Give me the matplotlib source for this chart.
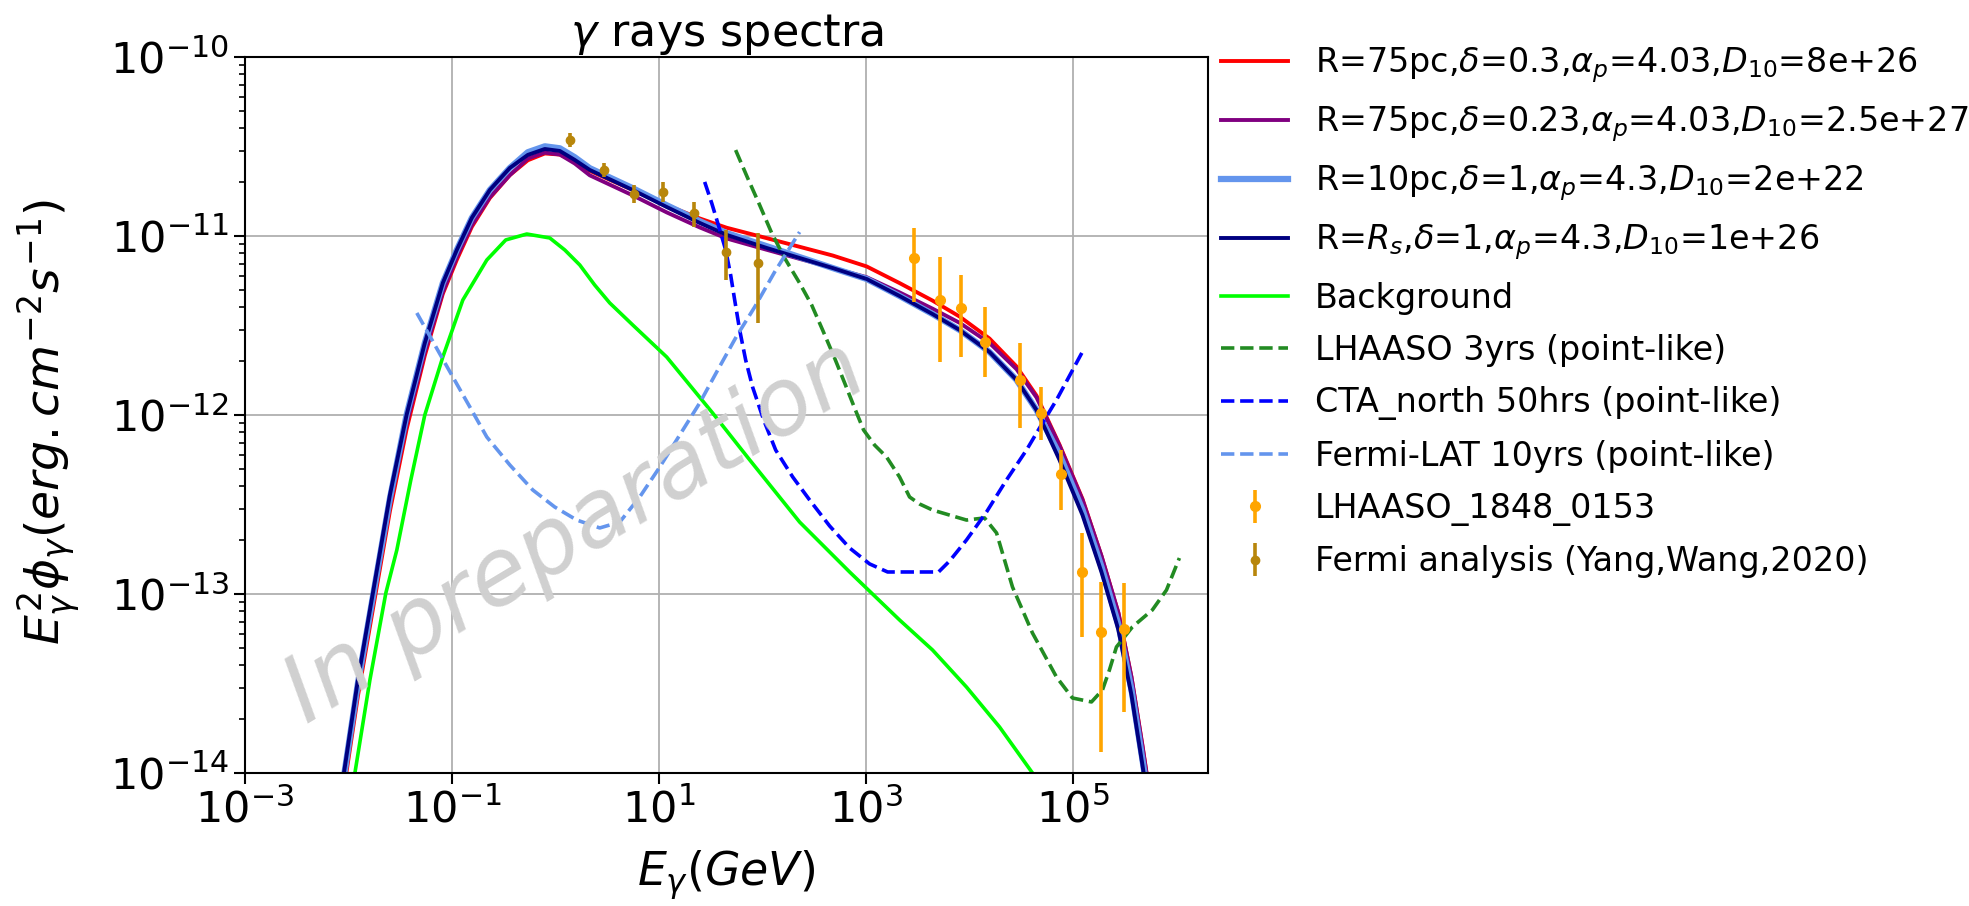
import numpy as np
import matplotlib
matplotlib.use('Agg')
import matplotlib.pyplot as plt
from matplotlib.ticker import NullLocator

# Model spectra on a common energy grid: log10(E / GeV) and log10(E^2 phi / erg cm^-2 s^-1)
logE_model = [-2.102, -2.044, -1.909, -1.764, -1.600, -1.439, -1.263, -1.089, -0.954,
              -0.809, -0.635, -0.442, -0.268, -0.104, 0.041, 0.185, 0.330, 0.745,
              1.073, 1.392, 1.653, 2.039, 2.676, 3.004, 3.322, 3.641, 3.902, 4.191,
              4.452, 4.645, 4.867, 5.089, 5.272, 5.436, 5.562, 5.668, 5.726]
logF_r75_d03 = [-14.297, -14.090, -13.570, -13.084, -12.537, -12.080, -11.668, -11.323,
                -11.133, -10.949, -10.788, -10.660, -10.577, -10.539, -10.545, -10.585,
                -10.636, -10.743, -10.828, -10.902, -10.954, -11.012, -11.109, -11.170,
                -11.263, -11.361, -11.450, -11.573, -11.729, -11.892, -12.166, -12.469,
                -12.787, -13.106, -13.464, -13.845, -14.069]
logF_r75_d023 = [-14.257, -14.050, -13.530, -13.044, -12.497, -12.050, -11.648, -11.313,
                 -11.118, -10.939, -10.783, -10.660, -10.567, -10.534, -10.545, -10.595,
                 -10.661, -10.773, -10.868, -10.952, -11.014, -11.077, -11.179, -11.230,
                 -11.315, -11.406, -11.485, -11.598, -11.744, -11.902, -12.171, -12.474,
                 -12.787, -13.106, -13.464, -13.850, -14.074]
logF_r10_d1 = [-14.227, -14.020, -13.500, -13.014, -12.467, -12.000, -11.598, -11.263,
               -11.078, -10.899, -10.743, -10.620, -10.532, -10.499, -10.510, -10.560,
               -10.621, -10.733, -10.828, -10.917, -10.984, -11.057, -11.179, -11.240,
               -11.335, -11.436, -11.525, -11.648, -11.804, -11.972, -12.221, -12.529,
               -12.847, -13.171, -13.534, -13.925, -14.149]
logF_rs_d1 = [-14.207, -14.000, -13.480, -12.994, -12.447, -12.000, -11.598, -11.263,
              -11.078, -10.899, -10.743, -10.620, -10.547, -10.514, -10.525, -10.575,
              -10.631, -10.743, -10.838, -10.927, -10.994, -11.067, -11.179, -11.240,
              -11.335, -11.436, -11.525, -11.648, -11.804, -11.972, -12.251, -12.559,
              -12.877, -13.201, -13.564, -13.955, -14.179]

# Background
logE_bkg = [-1.967, -1.938, -1.793, -1.639, -1.533, -1.398, -1.263, -1.089, -0.896, -0.664,
            -0.481, -0.278, -0.056, 0.089, 0.234, 0.378, 0.523, 0.745, 1.073, 1.517,
            1.875, 2.357, 2.840, 3.322, 3.641, 3.969, 4.288, 4.606, 4.722]
logF_bkg = [-14.151, -14.000, -13.480, -12.994, -12.754, -12.363, -12.000, -11.676, -11.358,
            -11.134, -11.022, -10.989, -11.011, -11.078, -11.162, -11.274, -11.374, -11.497,
            -11.676, -11.989, -12.251, -12.598, -12.877, -13.145, -13.313, -13.520, -13.743,
            -14.000, -14.106]

# Sensitivity curves
logE_lhaaso = [1.739, 1.855, 1.971, 2.087, 2.212, 2.357, 2.473, 2.579, 2.695, 2.792, 2.888,
               2.975, 3.081, 3.197, 3.322, 3.419, 3.515, 3.641, 3.805, 3.969, 4.143, 4.259,
               4.336, 4.413, 4.606, 4.838, 4.992, 5.176, 5.282, 5.349, 5.417, 5.571, 5.764,
               5.900, 6.025]
logF_lhaaso = [-10.520, -10.676, -10.827, -10.983, -11.123, -11.263, -11.385, -11.525, -11.682,
               -11.821, -11.961, -12.084, -12.168, -12.235, -12.346, -12.458, -12.497, -12.531,
               -12.559, -12.587, -12.575, -12.659, -12.810, -12.961, -13.218, -13.464, -13.581,
               -13.603, -13.536, -13.425, -13.296, -13.184, -13.089, -12.978, -12.799]

logE_cta = [1.440, 1.508, 1.575, 1.643, 1.691, 1.730, 1.778, 1.836, 1.903, 2.010, 2.126,
            2.290, 2.454, 2.647, 2.840, 3.033, 3.207, 3.699, 3.805, 3.969, 4.162, 4.355,
            4.548, 4.674, 4.838, 5.108]
logF_cta = [-10.698, -10.816, -10.944, -11.078, -11.218, -11.358, -11.525, -11.693, -11.844,
            -12.028, -12.196, -12.346, -12.475, -12.620, -12.743, -12.832, -12.877, -12.877,
            -12.816, -12.698, -12.542, -12.363, -12.196, -12.073, -11.916, -11.626]

logE_fermi_lat = [-1.340, -1.166, -0.992, -0.828, -0.664, -0.442, -0.220, -0.008, 0.205,
                  0.427, 0.620, 0.813, 1.006, 1.199, 1.392, 1.566, 1.749, 1.923, 2.116, 2.357]
logF_fermi_lat = [-11.430, -11.609, -11.788, -11.955, -12.123, -12.279, -12.419, -12.514,
                  -12.587, -12.631, -12.598, -12.458, -12.291, -12.112, -11.933, -11.749,
                  -11.559, -11.397, -11.201, -10.978]

# LHAASO J1848-0153 points (GeV, erg cm^-2 s^-1)
lhaaso_E = [2870, 5110, 8150, 14200, 30900, 49300, 76900, 122700, 187100, 312000]
lhaaso_F = [7.53e-12, 4.39e-12, 3.96e-12, 2.56e-12, 1.57e-12, 1.03e-12, 4.68e-13,
            1.33e-13, 6.14e-14, 6.37e-14]
lhaaso_hi = [1.109e-11, 7.63e-12, 6.05e-12, 4.01e-12, 2.52e-12, 1.43e-12, 6.37e-13,
             2.19e-13, 1.17e-13, 1.15e-13]
lhaaso_lo = [4.28e-12, 1.98e-12, 2.11e-12, 1.63e-12, 8.46e-13, 7.25e-13, 2.95e-13,
             5.75e-14, 1.31e-14, 2.19e-14]

# Fermi analysis points
fermi_E = [1.39, 2.92, 5.72, 10.9, 21.7, 44.7, 90.1]
fermi_F = [3.44e-11, 2.34e-11, 1.72e-11, 1.77e-11, 1.35e-11, 8.17e-12, 7.04e-12]
fermi_hi = [3.76e-11, 2.56e-11, 1.93e-11, 2.00e-11, 1.55e-11, 1.08e-11, 1.04e-11]
fermi_lo = [3.14e-11, 2.14e-11, 1.53e-11, 1.55e-11, 1.12e-11, 5.68e-12, 3.27e-12]


def lin(vals):
    return 10 ** np.array(vals)


def yerr(F, lo, hi):
    F = np.array(F)
    return [F - np.array(lo), np.array(hi) - F]


fig = plt.figure(figsize=(19.69, 9.06), dpi=100)
ax = fig.add_axes([0.1244, 0.1468, 0.4891, 0.7903])

E = lin(logE_model)
ax.plot(E, lin(logF_r75_d03), color='red', lw=2.8,
        label=r'R=75pc,$\delta$=0.3,$\alpha_p$=4.03,$D_{10}$=8e+26')
ax.plot(E, lin(logF_r75_d023), color='purple', lw=2.8,
        label=r'R=75pc,$\delta$=0.23,$\alpha_p$=4.03,$D_{10}$=2.5e+27')
ax.plot(E, lin(logF_r10_d1), color='cornflowerblue', lw=4.5,
        label=r'R=10pc,$\delta$=1,$\alpha_p$=4.3,$D_{10}$=2e+22')
ax.plot(E, lin(logF_rs_d1), color='navy', lw=2.8,
        label=r'R=$R_s$,$\delta$=1,$\alpha_p$=4.3,$D_{10}$=1e+26')
ax.plot(lin(logE_bkg), lin(logF_bkg), color='lime', lw=2.6, label='Background')
ax.plot(lin(logE_lhaaso), lin(logF_lhaaso), '--', color='forestgreen', lw=2.6,
        label='LHAASO 3yrs (point-like)')
ax.plot(lin(logE_cta), lin(logF_cta), '--', color='blue', lw=2.6,
        label='CTA_north 50hrs (point-like)')
ax.plot(lin(logE_fermi_lat), lin(logF_fermi_lat), '--', color='cornflowerblue', lw=2.6,
        label='Fermi-LAT 10yrs (point-like)')
ax.errorbar(lhaaso_E, lhaaso_F, yerr=yerr(lhaaso_F, lhaaso_lo, lhaaso_hi), fmt='o',
            color='orange', ms=7, elinewidth=2.6, label='LHAASO_1848_0153')
ax.errorbar(fermi_E, fermi_F, yerr=yerr(fermi_F, fermi_lo, fermi_hi), fmt='o',
            color='darkgoldenrod', ms=6, elinewidth=2.6,
            label='Fermi analysis (Yang,Wang,2020)')

ax.set_xscale('log')
ax.set_yscale('log')
ax.set_xlim(1e-3, 2e6)
ax.set_ylim(1e-14, 1e-10)
ax.set_xticks([1e-3, 1e-1, 1e1, 1e3, 1e5])
ax.xaxis.set_minor_locator(NullLocator())
ax.grid(True, which='major', color='#b0b0b0', lw=1.3)
for sp in ax.spines.values():
    sp.set_linewidth(1.5)
ax.tick_params(which='major', labelsize=31, length=8, width=1.5)
ax.tick_params(which='minor', length=4, width=1.2)

ax.set_title(r'$\gamma$ rays spectra', fontsize=32, pad=6)
ax.set_xlabel(r'$E_\gamma(GeV)$', fontsize=33)
ax.xaxis.set_label_coords(0.5, -0.105)
ax.set_ylabel(r'$E_\gamma^2\phi_\gamma(erg.cm^{-2}s^{-1})$', fontsize=34)
ax.yaxis.set_label_coords(-0.169, 0.49)

ax.legend(loc='upper left', bbox_to_anchor=(1.0, 1.035), borderaxespad=0,
          frameon=False, fontsize=24, labelspacing=0.58)

ax.text(0.343, 0.336, 'In preparation', transform=ax.transAxes, rotation=31,
        rotation_mode='anchor', ha='center', va='center', fontsize=67,
        style='italic', color='#d0d0d0', zorder=10)

fig.savefig('out.png', dpi=100)
